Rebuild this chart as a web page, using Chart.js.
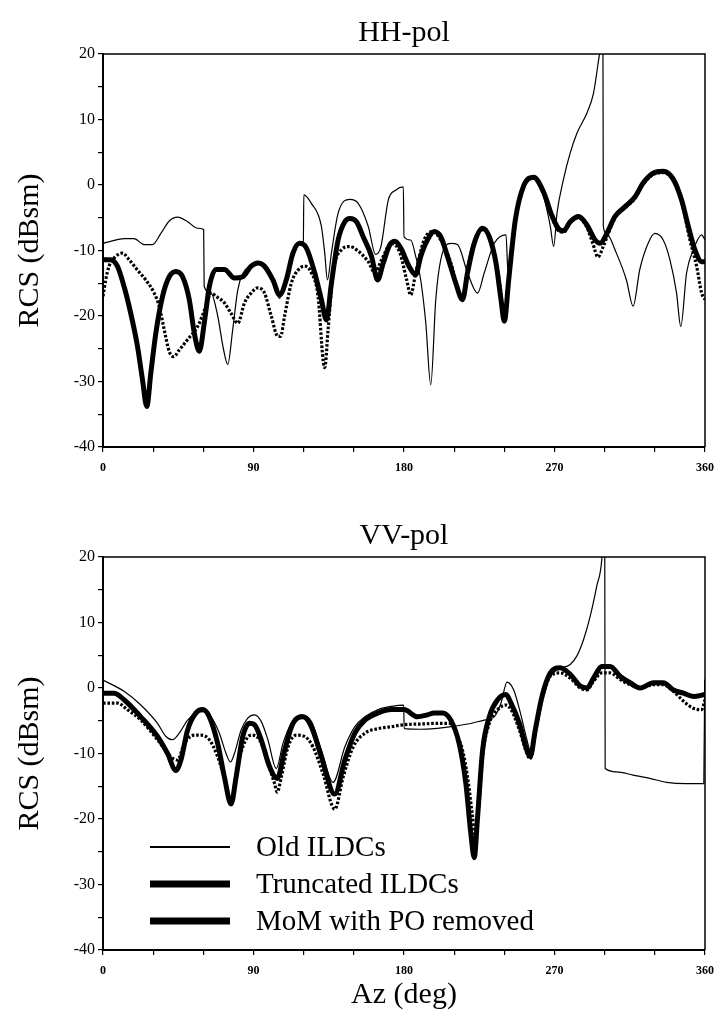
<!DOCTYPE html>
<html><head><meta charset="utf-8">
<script src="https://cdn.jsdelivr.net/npm/chart.js@4.4.1/dist/chart.umd.min.js"></script>
<style>
html,body{margin:0;padding:0;background:#fff;}
#wrap{position:relative;width:717px;height:1014px;background:#fff;}
canvas{position:absolute;left:0;}
</style></head><body>
<div id="wrap">
<canvas id="c1" width="717" height="500" style="top:0px"></canvas>
<canvas id="c2" width="717" height="514" style="top:500px"></canvas>
</div>
<script>
// ---------- DATA ----------
const seriesNames = ["Old ILDCs", "Truncated ILDCs", "MoM with PO removed"];
const chartTitles = ["HH-pol", "VV-pol"];
const xTickLabels = [0, 90, 180, 270, 360];
const yTickLabels = [20, 10, 0, -10, -20, -30, -40];

// HH-pol
const hhOldAz = [0, 4.6, 12.6, 18.6, 24.6, 29.6, 34.6, 39.6, 44.6, 50.6, 56.6, 60.2, 60.5, 64.6, 68.6, 72, 74.6, 77.6, 80.6, 83.6, 88.6, 92.6, 97.6, 102.6, 105.6, 108.6, 112.6, 116.6, 119.8, 120.1, 124.6, 130.6, 132.6, 134.2, 136.6, 140.6, 147.6, 152.6, 158.6, 163, 166.2, 170.6, 175, 179.6, 180, 184, 187, 190, 193, 196, 199, 202, 208, 212, 218, 224, 228, 234, 241, 242.2, 246.6, 251.6, 257.5, 263.5, 267.5, 269.5, 271.5, 275.4, 279.4, 283.4, 289.4, 293.3, 296.3, 297.3, 298.9, 299.2, 301, 307, 313, 317, 321, 326, 330, 335, 339, 343, 345.5, 349, 353, 358, 360];
const hhOldRcs = [-8.9, -8.6, -8.2, -8.2, -9.1, -9.1, -7.4, -5.5, -4.9, -5.6, -6.6, -6.8, -15.5, -16.5, -20, -25, -27.4, -22, -16, -13.5, -12.2, -11.7, -12.9, -15.5, -17.3, -15, -10.9, -9.1, -8.6, -1.5, -2.8, -6.3, -10.4, -14.5, -10.4, -4.3, -2.2, -2.8, -6.3, -10.6, -9.4, -2.3, -0.8, -0.3, -7.9, -8.4, -10.9, -14.5, -21, -30.5, -17.5, -11.4, -8.9, -9.1, -13.4, -16.5, -13.4, -8.9, -7.6, -13.4, -5.3, -0.1, 1.2, -1.8, -6.3, -9.4, -4.3, 0.9, 4.9, 7.9, 11, 14, 19, 21, 30, -6.3, -7.4, -10.4, -14.5, -18.5, -12.9, -8.9, -7.4, -8.4, -11.4, -16.5, -21.6, -13.4, -9.9, -7.6, -8.4];

const hhTruncAz = [0, 4.6, 8.6, 12.6, 16.6, 20.6, 23.6, 26.2, 28.6, 31.6, 35.6, 39.6, 43.6, 47.6, 51.6, 54.6, 57.6, 60.6, 63.6, 67.6, 72.6, 78.6, 83.6, 88.6, 92.6, 96.6, 101.6, 105.6, 109.6, 113.6, 117.6, 121.6, 126.6, 130.6, 133.6, 136.6, 140.6, 144.6, 147.6, 151.6, 155.6, 160.6, 164.2, 167.6, 171.6, 174.6, 178, 183, 187, 190, 194, 198, 202, 206, 211, 215, 218, 222, 227, 231, 235, 238, 240, 242.6, 246.6, 251.6, 257.5, 263.5, 268.5, 272.5, 275.4, 279.4, 284.4, 289.4, 294.3, 297.3, 301.3, 306.2, 312.2, 318.2, 323, 329, 335, 341, 346, 350, 354, 358, 360];
const hhTruncRcs = [-11.4, -11.4, -12.4, -15.5, -19.6, -24.6, -29.7, -33.8, -28.7, -22.6, -17, -14, -13.2, -14, -17.5, -22.6, -25.4, -21, -15.5, -12.9, -12.9, -14.2, -14, -12.4, -11.9, -12.4, -14.5, -16.8, -14.5, -10.4, -8.9, -9.6, -13.4, -17.5, -20.6, -15, -8.4, -5.6, -5.1, -5.6, -7.9, -10.9, -14.5, -11.9, -9.1, -8.6, -9.6, -12.4, -13.7, -10.9, -8.4, -7.1, -7.9, -10.9, -15, -17.5, -13.4, -8.9, -6.6, -7.9, -11.9, -17.5, -20.8, -14.5, -5.3, -0.1, 1.2, -1.1, -4.7, -6.7, -7.0, -5.6, -4.8, -6.1, -8.4, -8.9, -7.4, -4.8, -3.3, -1.8, 0.3, 1.8, 2.1, 0.9, -2.3, -6.3, -9.9, -11.7, -11.7];

const hhMomAz = [0, 1.6, 3.6, 7.6, 11.6, 15.6, 20.6, 25.6, 30.6, 33.6, 36.6, 39.6, 42.2, 45.6, 50.6, 56.6, 61.6, 64.6, 67.6, 72.6, 76.6, 80.6, 84.6, 88.6, 92.6, 96.6, 100.6, 104.6, 106.2, 108.6, 112.6, 116.6, 120.6, 124.6, 128.6, 131.6, 132.6, 134.6, 137.6, 142.6, 147.6, 152.6, 158.6, 162.6, 166.6, 172.6, 177.6, 181.6, 184, 187, 192, 197, 202, 208, 213, 215, 218, 223, 228, 233, 237, 240, 242.6, 246.6, 251.6, 257.5, 263.5, 268.5, 272.5, 275.4, 279.4, 284.4, 289.4, 293, 296, 299, 302, 306.2, 312.2, 318.2, 323, 329, 335, 341, 346, 351, 355, 358, 360];
const hhMomRcs = [-17, -14.5, -12.4, -10.9, -10.4, -11.4, -13, -14.5, -16.5, -18.5, -22.1, -25.4, -26.2, -25.2, -23.6, -21.6, -18.5, -16.5, -17, -18, -19.6, -21.1, -18, -16.5, -15.7, -16.5, -20, -23.1, -23.1, -20, -15, -13, -12.4, -13.4, -17, -26.7, -27.9, -22.1, -13.4, -9.9, -9.4, -10.1, -11.7, -13.4, -11.4, -8.9, -10.4, -14.5, -16.8, -13.4, -8.4, -7.1, -8.4, -11.9, -16.5, -17.3, -12.8, -7.9, -6.8, -9.4, -14.5, -20, -14.5, -5.5, -0.3, 1.0, -1.3, -5, -7, -7.2, -5.8, -5, -6.5, -9, -11, -9.5, -7.5, -5, -3.5, -2, 0.1, 1.6, 1.9, 0.7, -2.5, -8.4, -12.4, -16.5, -17.5];

// VV-pol
const vvOldAz = [0, 12.6, 22.6, 32.6, 37.6, 41.6, 45.6, 50.6, 55.6, 59.6, 64.6, 69.6, 73.6, 76.2, 78.6, 82.6, 86.6, 90.6, 94.6, 98.6, 103.6, 107.6, 112.6, 118.6, 124.6, 130.6, 137.6, 144.6, 150.6, 156.6, 164.6, 172.6, 179.8, 180.1, 190, 198, 208, 218, 228, 234, 238, 241.6, 245.6, 249.6, 253.5, 255.5, 257.5, 261.5, 265.5, 271.5, 279.4, 283.4, 287.4, 291.4, 295.3, 298.3, 300, 300.3, 307, 317, 327, 337, 349, 359.3, 359.8];
const vvOldRcs = [1.2, -0.5, -2.6, -5.4, -7.4, -7.9, -6.9, -4.9, -3.8, -3.6, -4.4, -6.9, -10, -11.3, -10, -6.4, -4.6, -4.1, -5.1, -7.9, -12.3, -8.5, -5.4, -4.1, -5.1, -9.5, -14.4, -9.0, -5.9, -4.4, -3.3, -2.8, -2.6, -6.2, -6.3, -6.2, -5.9, -5.5, -4.9, -4.4, -2.3, 0.9, -0.3, -3.8, -7.9, -9.5, -7.9, -3.3, 0.8, 2.8, 3.6, 4.9, 7.4, 11, 15.6, 19.7, 28, -12.3, -12.8, -13.3, -13.8, -14.4, -14.6, -14.6, 1.3];

const vvTruncAz = [0, 6.6, 12.6, 22.6, 32.6, 38.6, 43.6, 46.6, 50.6, 55.6, 59.6, 63.6, 68.6, 72.6, 76.6, 79.6, 83.6, 87.6, 90.6, 94.6, 99.6, 104.2, 108.6, 113.6, 119.6, 124.6, 130.6, 138.6, 144.6, 150.6, 156.6, 164.6, 172.6, 180, 188, 194, 198, 203, 208, 213, 217, 220, 222, 224, 227, 231, 236, 241, 244, 249, 253.5, 255.5, 258.5, 262.5, 267.5, 273.4, 279.4, 285.4, 289.4, 293.3, 298.3, 303.3, 309.2, 315.2, 321.2, 329.2, 335.1, 341.1, 347.1, 353, 360];
const vvTruncRcs = [-0.8, -0.8, -1.8, -4.4, -7.4, -10, -12.6, -11, -6.4, -3.8, -3.3, -4.4, -8.5, -13.6, -17.7, -13.6, -7.4, -5.4, -5.6, -7.9, -12, -13.8, -9.5, -5.4, -4.4, -5.9, -10.5, -16.2, -11, -6.9, -4.9, -3.8, -3.3, -3.3, -4.4, -4.1, -3.8, -3.8, -4.9, -8.5, -14.6, -22.3, -25.9, -19.7, -9.5, -4.4, -1.8, -1.0, -2.3, -5.4, -9.5, -10.5, -6.4, -1.3, 2.3, 3.1, 2.1, 0.3, 0, 1.5, 3.3, 3.3, 1.8, 0.8, 0, 0.8, 0.8, -0.3, -0.8, -1.3, -1.0];

const vvMomAz = [0, 8.6, 14.6, 22.6, 32.6, 40.6, 44.6, 48.6, 54.6, 58.6, 63.6, 68.6, 73.6, 76.6, 79.6, 83.6, 88.6, 93.6, 98.6, 102.6, 104.2, 106.6, 110.6, 115.6, 120.6, 125.6, 131.6, 138.6, 143.6, 149.6, 156.6, 164.6, 172.6, 180, 190, 200, 208, 212, 215, 218, 221, 222.5, 224.5, 227, 231, 236, 241, 244, 249, 253.5, 255.5, 258.5, 262.5, 267.5, 273.4, 279.4, 285.4, 289.4, 293.3, 298.3, 303.3, 309.2, 315.2, 321.2, 329.2, 335.1, 341.1, 347.1, 353, 358, 360];
const vvMomRcs = [-2.3, -2.3, -3.3, -4.9, -7.9, -10.5, -11, -8.5, -7.2, -7.2, -7.9, -10.5, -14.6, -17.4, -13.1, -9, -7.2, -7.9, -11.5, -14.6, -15.9, -13.6, -9, -7.2, -7.4, -9, -13.1, -18.5, -13.6, -9, -6.9, -6.2, -5.9, -5.6, -5.5, -5.4, -5.4, -7.4, -9.5, -13.6, -19.7, -22.8, -18.7, -10.5, -5.4, -3.3, -2.6, -3.3, -6.4, -10, -10.8, -6.9, -1.8, 1.8, 2.3, 1.5, 0, -0.3, 1, 2.3, 2.3, 1.3, 0.5, 0, 0.5, 0.5, -0.5, -2, -3.1, -3.3, -1.8];

// ---------- HELPERS ----------
const SERIF = '"Liberation Serif", "Times New Roman", serif';
function pts(xs, ys) { return xs.map((x, i) => ({ x: x, y: ys[i] })); }

const seriesStyle = [
  { borderWidth: 1.2, legendWidth: 2, dash: [] },
  { borderWidth: 5, legendWidth: 7, dash: [] },
  { borderWidth: 3.2, legendWidth: 7, dash: [2.6, 1.8] }
];

function makeDatasets(sets) {
  return sets.map((s, i) => ({
    label: seriesNames[i],
    data: pts(s[0], s[1]),
    borderColor: '#000',
    backgroundColor: '#000',
    borderWidth: seriesStyle[i].borderWidth,
    borderDash: seriesStyle[i].dash,
    legendWidth: seriesStyle[i].legendWidth,
    pointRadius: 0,
    fill: false,
    cubicInterpolationMode: 'monotone',
    order: i === 1 ? 0 : (i === 2 ? 1 : 2)
  }));
}

const framePlugin = {
  id: 'frame',
  afterDatasetsDraw(chart) {
    const { ctx, chartArea: a } = chart;
    ctx.save();
    ctx.strokeStyle = '#000';
    ctx.lineWidth = 1.5;
    ctx.beginPath();
    ctx.moveTo(a.left, a.top);
    ctx.lineTo(a.right, a.top);
    ctx.lineTo(a.right, a.bottom);
    ctx.stroke();
    ctx.restore();
  }
};

const inLegendPlugin = {
  id: 'inLegend',
  afterDraw(chart, args, opts) {
    if (!opts.show) return;
    const { ctx, chartArea: a } = chart;
    ctx.save();
    ctx.font = '29px ' + SERIF;
    ctx.textBaseline = 'middle';
    ctx.fillStyle = '#000';
    const rowOffsets = [103, 66, 29];
    chart.data.datasets.forEach((ds, i) => {
      const y = a.bottom - rowOffsets[i];
      ctx.strokeStyle = '#000';
      ctx.lineWidth = ds.legendWidth;
      ctx.beginPath();
      ctx.moveTo(a.left + 47, y);
      ctx.lineTo(a.left + 127, y);
      ctx.stroke();
      ctx.fillText(ds.label, a.left + 153, y + 1);
    });
    ctx.restore();
  }
};

function makeChart(canvasId, title, sets, xHeight, titlePad, showXTitle, showLegend) {
  return new Chart(document.getElementById(canvasId), {
    type: 'line',
    data: { datasets: makeDatasets(sets) },
    options: {
      responsive: false,
      animation: false,
      layout: { padding: { left: 0, right: 12, top: 0, bottom: 0 } },
      plugins: {
        legend: { display: false },
        tooltip: { enabled: false },
        title: {
          display: true, text: title, color: '#000', fullSize: false,
          font: { family: SERIF, size: 30, weight: 'normal', lineHeight: 1.2 },
          padding: titlePad
        },
        inLegend: { show: showLegend }
      },
      scales: {
        x: {
          type: 'linear', min: 0, max: 360,
          afterFit(s) { s.height = xHeight; s.paddingRight = 0; s.paddingLeft = 0; },
          border: { display: true, color: '#000', width: 2 },
          grid: { drawOnChartArea: false, drawTicks: true, tickLength: 5, color: '#000', lineWidth: 1.2 },
          ticks: {
            stepSize: 30, color: '#000', padding: 9, maxRotation: 0, autoSkip: false,
            font: { family: SERIF, size: 12, weight: 'bold' },
            callback: (v) => xTickLabels.includes(v) ? String(v) : ''
          },
          title: {
            display: showXTitle, text: 'Az (deg)', color: '#000',
            font: { family: SERIF, size: 30, lineHeight: 1.2 },
            padding: { top: 0, bottom: 1 }
          }
        },
        y: {
          type: 'linear', min: -40, max: 20,
          afterFit(s) { s.width = 103; },
          border: { display: true, color: '#000', width: 2 },
          grid: { drawOnChartArea: false, drawTicks: true, tickLength: 5, color: '#000', lineWidth: 1.2 },
          ticks: {
            stepSize: 5, color: '#000', padding: 3, autoSkip: false,
            font: { family: SERIF, size: 16 },
            callback: (v) => yTickLabels.includes(v) ? String(v) : ''
          },
          title: {
            display: true, text: 'RCS (dBsm)', color: '#000',
            font: { family: SERIF, size: 30, lineHeight: 1.2 },
            padding: { top: 12, bottom: 0 }
          }
        }
      }
    },
    plugins: [framePlugin, inLegendPlugin]
  });
}

makeChart('c1', chartTitles[0],
  [[hhOldAz, hhOldRcs], [hhTruncAz, hhTruncRcs], [hhMomAz, hhMomRcs]],
  53, { top: 15, bottom: 3 }, false, false);
makeChart('c2', chartTitles[1],
  [[vvOldAz, vvOldRcs], [vvTruncAz, vvTruncRcs], [vvMomAz, vvMomRcs]],
  64, { top: 18, bottom: 3 }, true, true);
</script>
</body></html>
